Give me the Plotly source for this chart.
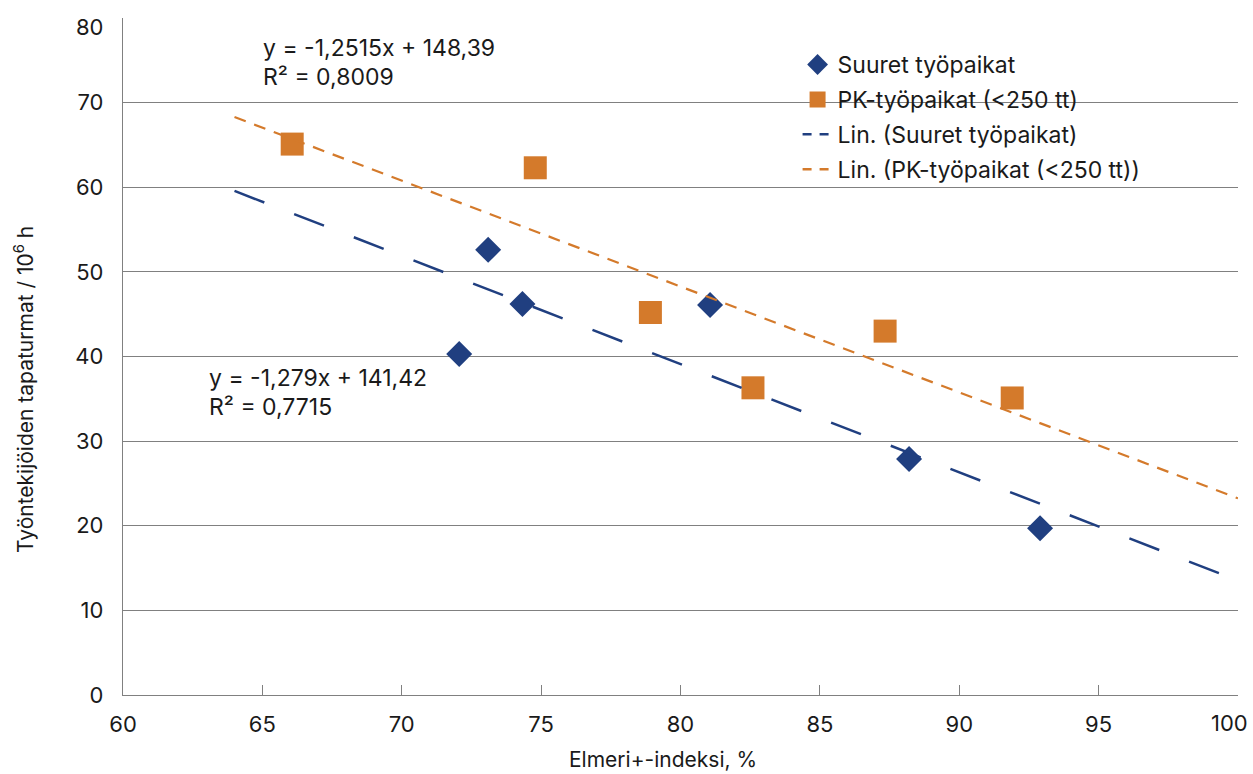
import plotly.graph_objects as go

# Large workplaces
large_x = [72.06, 73.1, 74.33, 81.06, 88.2, 92.9]
large_y = [40.3, 52.6, 46.2, 46.1, 27.9, 19.7]

# SME workplaces (<250 employees)
sme_x = [66.07, 74.79, 78.92, 82.6, 87.34, 91.9]
sme_y = [65.1, 62.3, 45.2, 36.3, 43.0, 35.1]

# Linear trend coefficients (slope, intercept, R²)
large_fit = (-1.279, 141.42, 0.7715)
sme_fit = (-1.2515, 148.39, 0.8009)
trend_span = [64, 100]

x_ticks = [60, 65, 70, 75, 80, 85, 90, 95, 100]
y_ticks = [0, 10, 20, 30, 40, 50, 60, 70, 80]

BLUE = "#203f80"
ORANGE = "#d47a2b"
FONT = "Inter, Liberation Sans, Arial, sans-serif"
TXT = "#1a1a1a"
GRID = "#808080"


def fit_line(fit):
    slope, intercept, _ = fit
    return [slope * x + intercept for x in trend_span]


def fmt(v):
    return str(v).replace(".", ",")


fig = go.Figure()

fig.add_trace(go.Scatter(
    x=large_x, y=large_y, mode="markers", name="Suuret työpaikat",
    legendgroup="a",
    marker=dict(symbol="diamond", size=20, color=BLUE),
))
fig.add_trace(go.Scatter(
    x=sme_x, y=sme_y, mode="markers", name="PK-työpaikat (<250 tt)",
    legendgroup="b",
    marker=dict(symbol="square", size=23, color=ORANGE),
))
fig.add_trace(go.Scatter(
    x=trend_span, y=fit_line(large_fit), mode="lines", showlegend=False,
    line=dict(color=BLUE, width=2.5, dash="32px,32px"), hoverinfo="skip",
))
fig.add_trace(go.Scatter(
    x=trend_span, y=fit_line(sme_fit), mode="lines", showlegend=False,
    line=dict(color=ORANGE, width=2.2, dash="12px,9px"), hoverinfo="skip",
))
# legend entries for the trend lines with a shorter dash pattern
fig.add_trace(go.Scatter(
    x=[None], y=[None], mode="lines", name="Lin. (Suuret työpaikat)",
    legendgroup="c",
    line=dict(color=BLUE, width=2.5, dash="9px,8px"),
))
fig.add_trace(go.Scatter(
    x=[None], y=[None], mode="lines", name="Lin. (PK-työpaikat (<250 tt))",
    legendgroup="d",
    line=dict(color=ORANGE, width=2.5, dash="9px,8px"),
))

annotations = []
for fit, ax, ay in [(sme_fit, 64.95, 76.5), (large_fit, 63.0, 37.5)]:
    slope, intercept, r2 = fit
    annotations.append(dict(
        x=ax, y=ay, xref="x", yref="y", xanchor="left", yanchor="middle",
        text=f"y = {fmt(slope)}x + {fmt(intercept)}", showarrow=False,
        font=dict(family=FONT, size=23, color=TXT),
    ))
    annotations.append(dict(
        x=ax, y=ay - 3.45, xref="x", yref="y", xanchor="left", yanchor="middle",
        text=f"R² = {fmt(r2)}", showarrow=False,
        font=dict(family=FONT, size=23, color=TXT),
    ))

# end labels kept inside the figure edge
annotations.append(dict(
    x=1.0108, y=-0.0418, xref="paper", yref="paper",
    xanchor="right", yanchor="middle", text=str(x_ticks[-1]), showarrow=False,
    font=dict(family=FONT, size=22, color=TXT),
))
annotations.append(dict(
    x=-0.0152, y=0.987, xref="paper", yref="paper",
    xanchor="right", yanchor="middle", text=str(y_ticks[-1]), showarrow=False,
    font=dict(family=FONT, size=22, color=TXT),
))

annotations.append(dict(
    x=-0.0888, y=0.452, xref="paper", yref="paper",
    xanchor="center", yanchor="middle", textangle=-90,
    text="Työntekijöiden tapaturmat / 10<sup>6</sup> h", showarrow=False,
    font=dict(family=FONT, size=21, color=TXT),
))
annotations.append(dict(
    x=0.4843, y=-0.117, xref="paper", yref="paper",
    xanchor="center", yanchor="bottom",
    text="Elmeri+-indeksi, %", showarrow=False,
    font=dict(family=FONT, size=21, color=TXT),
))

fig.update_layout(
    width=1253, height=774,
    margin=dict(l=123, r=15, t=18, b=79, autoexpand=False),
    paper_bgcolor="white", plot_bgcolor="white",
    font=dict(family=FONT, size=23, color=TXT),
    showlegend=True,
    legend=dict(
        x=0.605, y=0.963, xanchor="left", yanchor="top",
        bgcolor="rgba(0,0,0,0)", borderwidth=0,
        tracegroupgap=2, font=dict(family=FONT, size=23, color=TXT),
        itemclick=False,
    ),
    shapes=[dict(
        type="rect", xref="paper", yref="paper", layer="between",
        x0=0.576, x1=0.941, y0=0.745, y1=0.96,
        fillcolor="white", line=dict(width=0),
    )],
    annotations=annotations,
)

fig.update_xaxes(
    range=[60, 100], tickvals=x_ticks,
    ticktext=[str(t) for t in x_ticks[:-1]] + [""],
    showgrid=False, zeroline=False, showline=True, linecolor=GRID, linewidth=1.3,
    ticks="inside", ticklen=10, tickcolor=GRID, tickwidth=1.3,
    ticklabelstandoff=9, automargin=False,
    tickfont=dict(family=FONT, size=22, color=TXT),
)
fig.update_yaxes(
    range=[0, 80], tickvals=y_ticks,
    ticktext=[str(t) for t in y_ticks[:-1]] + [""],
    showgrid=True, gridcolor=GRID, gridwidth=1.3,
    zeroline=False, showline=True, linecolor=GRID, linewidth=1.3,
    ticks="", ticklabelstandoff=14, automargin=False,
    tickfont=dict(family=FONT, size=22, color=TXT),
)

fig.write_html("out.html")
